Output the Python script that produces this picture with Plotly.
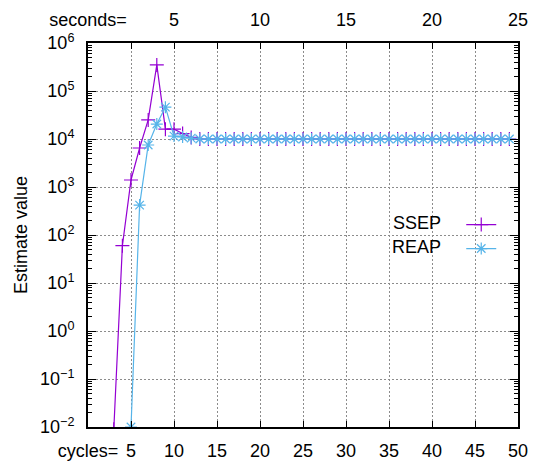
import plotly.graph_objects as go

# Data
ssep_cycles = [3, 4, 5, 6, 7, 8, 9, 10, 11, 12] + list(range(13, 50))
ssep_values = [0.009, 60, 1400, 6500, 25000, 350000, 16000, 16000, 13000, 10800] + [10000] * 37

reap_cycles = [5, 6, 7, 8, 9, 10, 11, 12] + list(range(13, 50))
reap_values = [0.01, 420, 7500, 20500, 46000, 11500, 11000, 10400] + [10000] * 37

bottom_tickvals = [0, 5, 10, 15, 20, 25, 30, 35, 40, 45, 50]
bottom_ticktext = ["cycles=", "5", "10", "15", "20", "25", "30", "35", "40", "45", "50"]
top_tickvals = [0, 10, 20, 30, 40, 50]
top_ticktext = ["seconds=", "5", "10", "15", "20", "25"]
y_exponents = [-2, -1, 0, 1, 2, 3, 4, 5, 6]

y_tickvals = [10.0 ** e for e in y_exponents]
y_ticktext = ["10<sup>%s</sup>" % (str(e).replace("-", "−")) for e in y_exponents]
y_minor = [m * 10.0 ** e for e in y_exponents[:-1] for m in range(2, 10)]

FONT = "Liberation Sans, Arial, sans-serif"
PURPLE = "#9400d3"
BLUE = "#56b4e9"
GRID = "#8c8c8c"

fig = go.Figure()
fig.add_trace(go.Scatter(
    x=ssep_cycles, y=ssep_values, name="SSEP", legendgroup="a", mode="lines+markers",
    line=dict(color=PURPLE, width=1.2),
    marker=dict(symbol="cross-thin", size=10, line=dict(color=PURPLE, width=1.2)),
))
fig.add_trace(go.Scatter(
    x=reap_cycles, y=reap_values, name="REAP", legendgroup="b", mode="lines+markers",
    line=dict(color=BLUE, width=1.2),
    marker=dict(symbol="asterisk-open", size=10, line=dict(color=BLUE, width=1.2)),
))
# invisible trace to anchor the top (seconds) axis
fig.add_trace(go.Scatter(
    x=ssep_cycles, y=ssep_values, xaxis="x2", mode="lines",
    line=dict(color="rgba(0,0,0,0)"), showlegend=False, hoverinfo="skip",
))

# legend labels drawn left of the legend samples (gnuplot style)
for name, ypos in (("SSEP", 0.531), ("REAP", 0.469)):
    fig.add_annotation(x=0.825, y=ypos, xref="paper", yref="paper", text=name,
                       showarrow=False, xanchor="right", yanchor="middle",
                       font=dict(size=18, color="black"))

fig.update_layout(
    width=533, height=469,
    margin=dict(l=88, r=15, t=43, b=42, autoexpand=False),
    paper_bgcolor="white", plot_bgcolor="white",
    font=dict(family=FONT, size=18, color="black"),
    showlegend=True,
    legend=dict(x=0.868, y=0.565, xanchor="left", yanchor="top",
                bgcolor="rgba(0,0,0,0)", font=dict(size=2, color="rgba(0,0,0,0)"),
                itemwidth=30, tracegroupgap=5),
    xaxis=dict(
        range=[0, 50], tickmode="array", tickvals=bottom_tickvals, ticktext=bottom_ticktext,
        ticks="inside", ticklen=6, tickcolor="black", tickwidth=1,
        showline=True, linecolor="black", linewidth=2, mirror="ticks",
        showgrid=True, gridcolor=GRID, griddash="2px,2px", gridwidth=1,
        zeroline=False, tickfont=dict(size=18), ticklabelstandoff=6,
    ),
    xaxis2=dict(
        range=[0, 50], overlaying="x", side="top", tickmode="array",
        tickvals=top_tickvals, ticktext=top_ticktext, ticks="", showgrid=False,
        showline=False, zeroline=False, tickfont=dict(size=18), ticklabelstandoff=12,
    ),
    yaxis=dict(
        type="log", range=[-2, 6], tickmode="array", tickvals=y_tickvals, ticktext=y_ticktext,
        ticks="inside", ticklen=8, tickcolor="black", tickwidth=1,
        minor=dict(tickmode="array", tickvals=y_minor, ticks="inside", ticklen=4,
                   tickcolor="black", showgrid=False),
        showline=True, linecolor="black", linewidth=2, mirror="ticks",
        showgrid=True, gridcolor=GRID, griddash="2px,2px", gridwidth=1,
        zeroline=False, tickfont=dict(size=18), ticklabelstandoff=8,
        title=dict(text="Estimate value", font=dict(size=18), standoff=8),
    ),
)

fig.write_html("out.html", config={"displayModeBar": False},
               post_script="document.body.style.margin='0';")
